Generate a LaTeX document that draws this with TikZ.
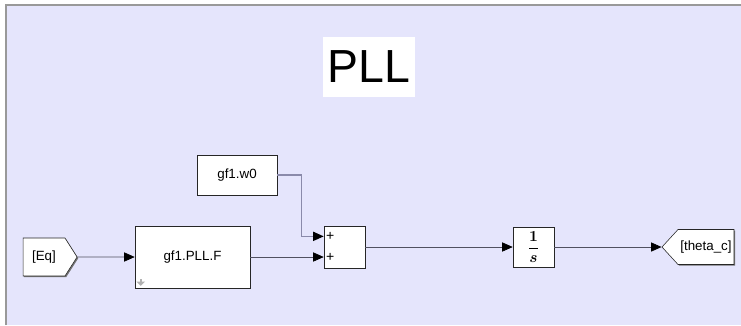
\documentclass[tikz,border=0pt]{standalone}
\usepackage{amsmath}
\usepackage{bm}
\usepackage{fontspec}
\setsansfont{Liberation Sans}
\usepackage{tikz}
\usetikzlibrary{shapes.symbols, arrows.meta, shadows, calc}
\definecolor{canvas}{RGB}{229,229,252}
\definecolor{wire}{RGB}{80,80,96}
\definecolor{wirelt}{RGB}{138,138,170}
\tikzset{
  blk/.style  = {rectangle, draw=black!85, fill=white, thin,
                 drop shadow={shadow xshift=0.03cm, shadow yshift=-0.03cm,
                              fill=black!55, opacity=1},
                 inner sep=1pt, font=\sffamily\fontsize{9.5}{11}\selectfont},
  tagin/.style  = {blk, shape=signal, signal to=east, signal from=nowhere,
                   signal pointer angle=115},
  tagout/.style = {blk, shape=signal, signal to=west, signal from=nowhere,
                   signal pointer angle=95},
  sig/.style  = {-{Triangle[length=7.5pt,width=6.5pt,color=black]},
                 draw=wire, line width=0.5pt},
  pm/.style   = {font=\sffamily\fontsize{10}{11}\selectfont, inner sep=0pt, anchor=west},
}

\begin{document}
\begin{tikzpicture}[x=0.025cm, y=-0.025cm]
  % canvas
  \useasboundingbox (0,0) rectangle (741,325);
  \fill[white] (0,0) rectangle (741,325);
  \fill[canvas] (6,5) rectangle (741,325);
  \draw[black!40, line width=0.8pt] (6,325) -- (6,5) -- (741,5);

  % title
  \node[fill=white, minimum width=2.2cm, minimum height=1.5cm,
        font=\sffamily\fontsize{33}{36}\selectfont]
        (title) at (369,67) {PLL};

  % blocks
  \node[tagin, minimum width=1.35cm, minimum height=0.95cm]
        (eq) at (44,257) {[Eq]};
  \node[blk, minimum width=2.875cm, minimum height=1.55cm]
        (pllf) at (192.5,257) {gf1.PLL.F};
  \node[blk, minimum width=2.0cm, minimum height=1.0cm]
        (w0) at (237,175) {gf1.w0};
  \node[blk, minimum width=1.025cm, minimum height=1.05cm]
        (sum) at (344.5,247) {};
  \node[blk, minimum width=1.025cm, minimum height=1.0cm, font=\fontsize{11}{12}\selectfont]
        (int) at (533.5,247) {$\dfrac{\bm{1}}{\bm{s}}$};
  \node[tagout, minimum width=1.8cm, minimum height=0.875cm]
        (theta) at (706,247) {[theta\_c]};

  % sum ports
  \coordinate (in1) at ($(sum.north west)!0.25!(sum.south west)$);
  \coordinate (in2) at (sum.west |- pllf.east);
  \node[pm] (p1) at ($(in1)+(2,0)$) {+};
  \node[pm] (p2) at ($(in2)+(2,0)$) {+};

  % filter marker
  \draw[black!30, line width=1.6pt, -{Triangle[length=3pt,width=6pt]}]
        ($(pllf.south west)+(6,-9)$) -- ($(pllf.south west)+(6,-2.5)$);

  % signals
  \draw[sig] (eq) -- (pllf);
  \draw[sig] (pllf) -- (in2);
  \draw[sig, draw=wirelt, line width=0.8pt] (w0.east) -| ($(in1)+(-22,0)$) -- (in1);
  \draw[sig] (sum) -- (int);
  \draw[sig] (int) -- (theta.west);
\end{tikzpicture}
\end{document}
